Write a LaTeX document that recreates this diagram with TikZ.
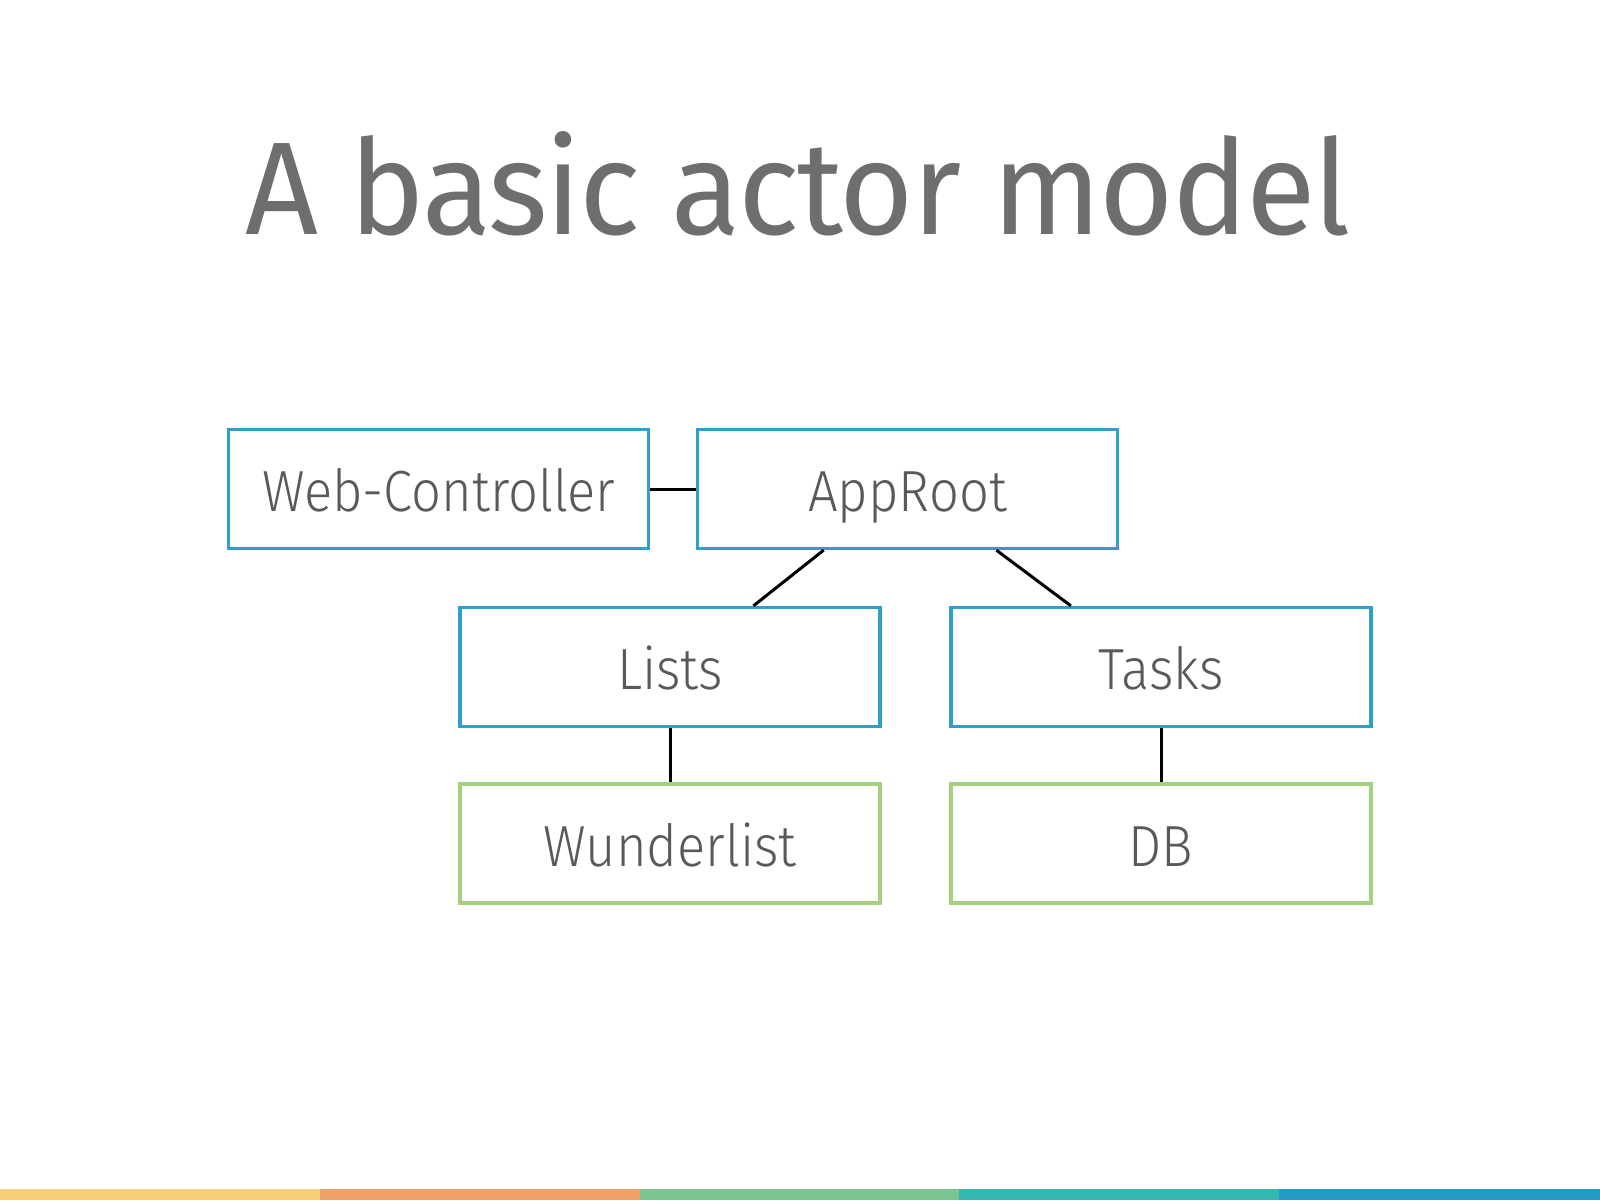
\documentclass[tikz,border=0pt]{standalone}
\usepackage{fontspec}
\setmainfont{Fira Sans}
\newfontfamily\lightfont{Fira Sans Light}[FakeStretch=0.905]
\newfontfamily\titlefont{Fira Sans}[FakeStretch=0.965,LetterSpace=-1.6]
\usetikzlibrary{calc}
\definecolor{boxblue}{HTML}{2E9FCB}
\definecolor{boxgreen}{HTML}{A5D17E}
\definecolor{txtgray}{HTML}{58595B}
\definecolor{titlegray}{HTML}{6D6E70}
\definecolor{barA}{HTML}{F7CE76}
\definecolor{barB}{HTML}{F19F65}
\definecolor{barC}{HTML}{78C58E}
\definecolor{barD}{HTML}{33B7B2}
\definecolor{barE}{HTML}{2399C8}
\begin{document}
\begin{tikzpicture}[x=1pt,y=-1pt,
  actor/.style={draw=boxblue,line width=3.3pt,minimum width=420pt,minimum height=119pt,inner sep=0pt,
    font=\lightfont\fontsize{58}{60}\selectfont,text=txtgray,text height=45.4pt,text depth=0pt},
  ext/.style={actor,draw=boxgreen},
  link/.style={line width=3pt,black}]
\useasboundingbox[fill=white] (0,0) rectangle (1600,1200);
\node[font=\titlefont\fontsize{132}{140}\selectfont,text=titlegray,anchor=base] (title) at (798,234) {A basic actor model};
\node[actor] (wc) at (438.7,489) {Web-Controller};
\node[actor] (ar) at (907.5,489) {AppRoot};
\node[actor] (li) at (670,667) {Lists};
\node[actor] (ta) at (1161,667) {Tasks};
\node[ext] (wu) at (670,843.5) {Wunderlist};
\node[ext] (db) at (1161,843.5) {DB};
\draw[link] (wc.east) -- (ar.west);
\draw[link] ($(ar.south west)!0.302!(ar.south east)$) -- ($(li.north west)!0.697!(li.north east)$);
\draw[link] ($(ar.south west)!0.71!(ar.south east)$) -- ($(ta.north west)!0.287!(ta.north east)$);
\draw[link] (li.south) -- (wu.north);
\draw[link] (ta.south) -- (db.north);
\fill[barA] (0,1189) rectangle (320,1200);
\fill[barB] (320,1189) rectangle (640,1200);
\fill[barC] (640,1189) rectangle (959,1200);
\fill[barD] (959,1189) rectangle (1279,1200);
\fill[barE] (1279,1189) rectangle (1600,1200);
\end{tikzpicture}
\end{document}
